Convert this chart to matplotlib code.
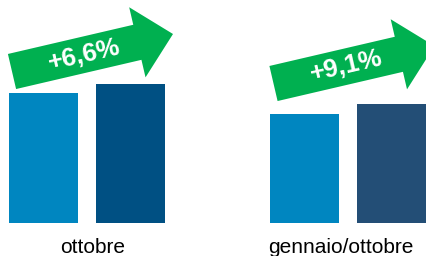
import matplotlib.pyplot as plt
from matplotlib.patches import FancyArrow

plt.rcParams['font.family'] = ['Liberation Sans', 'DejaVu Sans']

# bar values (first group = 100)
groups = ['ottobre', 'gennaio/ottobre']
values_prev = [100.0, 83.8]
values_curr = [106.6, 91.4]
changes = ['+6,6%', '+9,1%']

col_prev = '#0086c0'
col_curr = ['#005083', '#234e76']
green = '#00b050'

fig = plt.figure(figsize=(4.27, 2.56), dpi=100)

ax = fig.add_axes([0, 33 / 256, 1, 156 / 256])
xs_prev = [0, 3]
xs_curr = [1, 4]
ax.bar(xs_prev, values_prev, width=0.793, color=col_prev)
ax.bar(xs_curr, values_curr, width=0.793, color=col_curr)
ax.set_xlim(-0.5, 4.408)
ax.set_ylim(0, 120)
ax.set_yticks([])
ax.set_xticks([0.57, 3.42], groups, fontsize=15)
ax.tick_params(axis='x', length=0, pad=11)
for s in ax.spines.values():
    s.set_visible(False)
ax.patch.set_alpha(0)

# overlay in pixel coordinates for the arrows
ov = fig.add_axes([0, 0, 1, 1], zorder=5)
ov.set_xlim(0, 427)
ov.set_ylim(256, 0)
ov.axis('off')
ov.patch.set_alpha(0)

arrows = [((12, 71.5), (84.5, 55.5)), ((273.5, 83.5), (346, 66))]
for (start, txt_pos), label in zip(arrows, changes):
    ov.add_patch(FancyArrow(start[0], start[1], 161, -37.5, width=36,
                            head_width=72, head_length=36.6,
                            length_includes_head=True, color=green, lw=0))
    ov.text(txt_pos[0], txt_pos[1], label, color='white', fontsize=18.5,
            fontweight='bold', rotation=13, ha='center', va='center',
            rotation_mode='anchor')

fig.savefig('out.png', dpi=100)
